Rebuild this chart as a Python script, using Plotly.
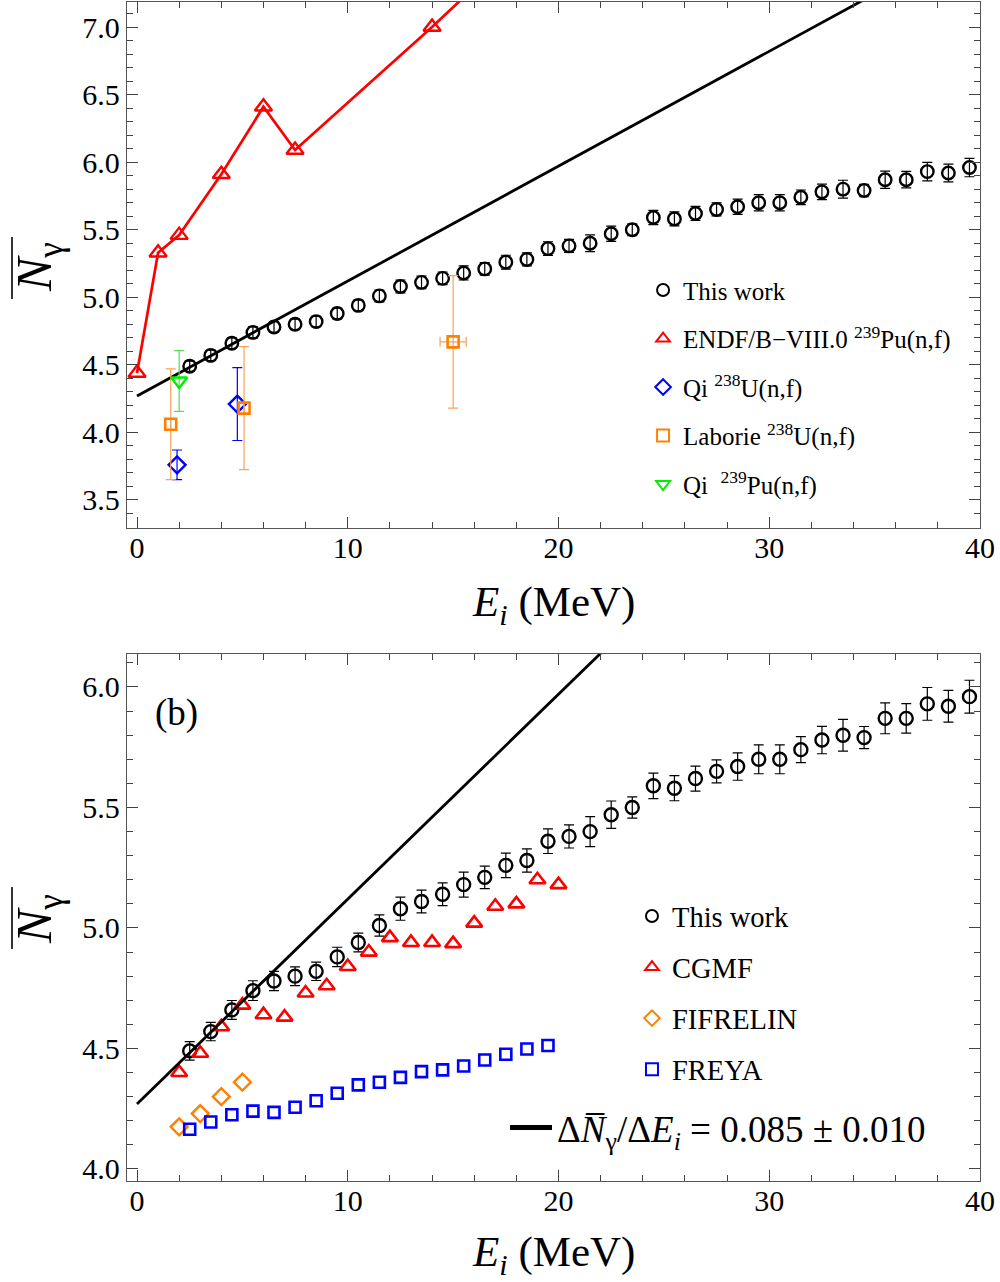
import plotly.graph_objects as go

# ---------------- data ----------------
E_work = [2.5, 3.5, 4.5, 5.5, 6.5, 7.5, 8.5, 9.5, 10.5, 11.5, 12.5, 13.5, 14.5, 15.5,
          16.5, 17.5, 18.5, 19.5, 20.5, 21.5, 22.5, 23.5, 24.5, 25.5, 26.5, 27.5,
          28.5, 29.5, 30.5, 31.5, 32.5, 33.5, 34.5, 35.5, 36.5, 37.5, 38.5, 39.5]
N_work = [4.49, 4.57, 4.66, 4.74, 4.78, 4.80, 4.82, 4.88, 4.94, 5.01, 5.08, 5.11, 5.14, 5.18,
          5.21, 5.26, 5.28, 5.36, 5.38, 5.40, 5.47, 5.50, 5.59, 5.58, 5.62, 5.65,
          5.67, 5.70, 5.70, 5.74, 5.78, 5.80, 5.79, 5.87, 5.87, 5.93, 5.92, 5.96]
err_work = [0.038, 0.038, 0.039, 0.041, 0.040, 0.039, 0.038, 0.040, 0.039, 0.044, 0.048, 0.047,
            0.047, 0.052, 0.047, 0.051, 0.048, 0.051, 0.048, 0.062, 0.057, 0.044, 0.053, 0.052,
            0.052, 0.048, 0.057, 0.060, 0.060, 0.054, 0.057, 0.066, 0.046, 0.064, 0.061, 0.068,
            0.066, 0.068]

FIT_SLOPE = 0.085
FIT_INTERCEPT = 4.27
E_fit = [0.0, 40.0]
N_fit = [FIT_INTERCEPT + FIT_SLOPE * e for e in E_fit]

E_endf = [0.0, 1.0, 2.0, 4.0, 6.0, 7.5, 14.0, 20.0]
N_endf = [4.44, 5.33, 5.46, 5.91, 6.41, 6.09, 7.00, 7.88]

E_qi_u = [1.9, 4.76]
N_qi_u = [3.76, 4.21]
err_qi_u = [0.11, 0.27]

E_lab = [1.6, 5.08, 15.0]
N_lab = [4.06, 4.18, 4.67]
err_lab = [0.41, 0.455, 0.49]
errx_lab = [0.0, 0.0, 0.62]

E_qi_pu = [2.0]
N_qi_pu = [4.38]
err_qi_pu = [0.225]

E_cgmf = [2, 3, 4, 5, 6, 7, 8, 9, 10, 11, 12, 13, 14, 15, 16, 17, 18, 19, 20]
N_cgmf = [4.40, 4.48, 4.59, 4.68, 4.64, 4.63, 4.73, 4.76, 4.84, 4.90, 4.96, 4.94, 4.94, 4.935,
          5.02, 5.09, 5.10, 5.20, 5.18]

E_fif = [2, 3, 4, 5]
N_fif = [4.175, 4.23, 4.30, 4.36]

E_freya = [2.5, 3.5, 4.5, 5.5, 6.5, 7.5, 8.5, 9.5, 10.5, 11.5, 12.5, 13.5, 14.5, 15.5,
           16.5, 17.5, 18.5, 19.5]
N_freya = [4.165, 4.195, 4.225, 4.24, 4.235, 4.256, 4.283, 4.314, 4.349, 4.36, 4.38, 4.404,
           4.411, 4.427, 4.452, 4.476, 4.498, 4.512]

# ---------------- styling ----------------
FONT = "Liberation Serif"
BLACK = "#000000"
RED = "#ff0000"
BLUE = "#0000ff"
ORANGE = "#ff8000"
ORANGE_BAR = "#f7a35c"
GREEN = "#00ee00"
GREEN_BAR = "#55dd55"

fig = go.Figure()

# ---------- top panel ----------
fig.add_trace(go.Scatter(x=E_fit, y=N_fit, mode="lines", line=dict(color=BLACK, width=2.8),
                         showlegend=False, xaxis="x", yaxis="y"))
fig.add_trace(go.Scatter(x=E_endf, y=N_endf, mode="lines", line=dict(color=RED, width=2.7),
                         showlegend=False, xaxis="x", yaxis="y"))
fig.add_trace(go.Scatter(x=E_work, y=N_work, mode="markers", name="This work",
                         marker=dict(symbol="circle-open", size=12.5, color=BLACK, line=dict(width=2.4)),
                         error_y=dict(type="data", array=err_work, color=BLACK, thickness=1.2, width=5),
                         legend="legend", legendgroup="a1", xaxis="x", yaxis="y"))
fig.add_trace(go.Scatter(x=E_endf, y=N_endf, mode="markers",
                         name="ENDF/B\u2212VIII.0 <sup>239</sup>Pu(n,f)",
                         marker=dict(symbol="triangle-up-open", size=15, color=RED, line=dict(width=2.4)),
                         legend="legend", legendgroup="a2", xaxis="x", yaxis="y"))
fig.add_trace(go.Scatter(x=E_qi_u, y=N_qi_u, mode="markers", name="Qi <sup>238</sup>U(n,f)",
                         marker=dict(symbol="diamond-open", size=13, color=BLUE, line=dict(width=2.4)),
                         error_y=dict(type="data", array=err_qi_u, color=BLUE, thickness=1.2, width=5),
                         legend="legend", legendgroup="a3", xaxis="x", yaxis="y"))
fig.add_trace(go.Scatter(x=E_lab, y=N_lab, mode="markers", name="Laborie <sup>238</sup>U(n,f)",
                         marker=dict(symbol="square-open", size=11, color=ORANGE, line=dict(width=2.6)),
                         error_y=dict(type="data", array=err_lab, color=ORANGE_BAR, thickness=1.2, width=5),
                         error_x=dict(type="data", array=errx_lab, color=ORANGE_BAR, thickness=1.2, width=5),
                         legend="legend", legendgroup="a4", xaxis="x", yaxis="y"))
fig.add_trace(go.Scatter(x=E_qi_pu, y=N_qi_pu, mode="markers", name="Qi  <sup>239</sup>Pu(n,f)",
                         marker=dict(symbol="triangle-down-open", size=14, color=GREEN, line=dict(width=2.4)),
                         error_y=dict(type="data", array=err_qi_pu, color=GREEN_BAR, thickness=1.2, width=5),
                         legend="legend", legendgroup="a5", xaxis="x", yaxis="y"))

# ---------- bottom panel ----------
fig.add_trace(go.Scatter(x=E_work, y=N_work, mode="markers", name="This work",
                         marker=dict(symbol="circle-open", size=13, color=BLACK, line=dict(width=2.4)),
                         error_y=dict(type="data", array=err_work, color=BLACK, thickness=1.2, width=5),
                         legend="legend2", legendgroup="b1", xaxis="x2", yaxis="y2"))
fig.add_trace(go.Scatter(x=E_cgmf, y=N_cgmf, mode="markers", name="CGMF",
                         marker=dict(symbol="triangle-up-open", size=14, color=RED, line=dict(width=2.6)),
                         legend="legend2", legendgroup="b2", xaxis="x2", yaxis="y2"))
fig.add_trace(go.Scatter(x=E_fif, y=N_fif, mode="markers", name="FIFRELIN",
                         marker=dict(symbol="diamond-open", size=13, color=ORANGE, line=dict(width=2.4)),
                         legend="legend2", legendgroup="b3", xaxis="x2", yaxis="y2"))
fig.add_trace(go.Scatter(x=E_freya, y=N_freya, mode="markers", name="FREYA",
                         marker=dict(symbol="square-open", size=11, color=BLUE, line=dict(width=2.6)),
                         legend="legend2", legendgroup="b4", xaxis="x2", yaxis="y2"))
fig.add_trace(go.Scatter(x=E_fit, y=N_fit, mode="lines",
                         name="\u0394<i>N\u0305</i><sub>\u03b3</sub>/\u0394<i>E<sub>i</sub></i> = 0.085 \u00b1 0.010",
                         line=dict(color=BLACK, width=2.8),
                         legend="legend3", xaxis="x2", yaxis="y2"))

# ---------- axes ----------
axis_common = dict(
    showline=True, linecolor="#555555", linewidth=1.3, mirror="allticks",
    ticks="inside", ticklen=11, tickwidth=1.2, tickcolor="#444444",
    showgrid=False, zeroline=False,
    tickfont=dict(family=FONT, size=30, color=BLACK),
)
xcommon = dict(axis_common, range=[-0.475, 40], tickvals=[0, 10, 20, 30, 40],
               minor=dict(dtick=2, tick0=0, ticklen=6, ticks="inside", tickcolor="#444444", showgrid=False))
ycommon = dict(axis_common, dtick=0.5, tickformat=".1f",
               minor=dict(dtick=0.1, ticklen=6, ticks="inside", tickcolor="#444444", showgrid=False))

TOP_DOM = [0.5539, 1.0]
BOT_DOM = [0.0, 0.447]


def px_x(px):
    return (px - 127) / 853.0


def px_y(py):
    return (1181 - py) / 1179.0


fig.update_layout(
    width=1000, height=1282,
    margin=dict(l=127, r=20, t=2, b=101),
    paper_bgcolor="white", plot_bgcolor="white",
    font=dict(family=FONT, color=BLACK),
    xaxis=dict(xcommon, anchor="y", domain=[0, 1]),
    yaxis=dict(ycommon, anchor="x", domain=TOP_DOM, range=[3.293, 7.185], tick0=3.5),
    xaxis2=dict(xcommon, anchor="y2", domain=[0, 1]),
    yaxis2=dict(ycommon, anchor="x2", domain=BOT_DOM, range=[3.95, 6.137], tick0=4.0),
    legend=dict(x=0.605, y=0.775, xanchor="left", yanchor="top", bgcolor="rgba(0,0,0,0)",
                font=dict(family=FONT, size=25, color=BLACK), tracegroupgap=13,
                traceorder="grouped", itemsizing="constant"),
    legend2=dict(x=0.592, y=0.246, xanchor="left", yanchor="top", bgcolor="rgba(0,0,0,0)",
                 font=dict(family=FONT, size=28.5, color=BLACK), tracegroupgap=11,
                 traceorder="grouped", itemsizing="constant"),
    legend3=dict(x=px_x(505), y=px_y(1128), xanchor="left", yanchor="middle", bgcolor="rgba(0,0,0,0)",
                 font=dict(family=FONT, size=37, color=BLACK), itemsizing="constant", itemwidth=42),
)

# pull x tick labels a little closer to the axis if supported
for ax in ("xaxis", "xaxis2"):
    try:
        fig.layout[ax].ticklabelstandoff = -7
    except Exception:
        pass

annotations = []
for yc in (267, 919):
    annotations.append(dict(text="<i>N</i><sub>\u03b3</sub>", xref="paper", yref="paper",
                            x=px_x(38), y=px_y(yc), showarrow=False, textangle=-90,
                            font=dict(family=FONT, size=50, color=BLACK),
                            xanchor="center", yanchor="middle"))
for yc in (605, 1255):
    annotations.append(dict(text="<i>E<sub>i</sub></i> (MeV)", xref="paper", yref="paper",
                            x=px_x(553), y=px_y(yc), showarrow=False,
                            font=dict(family=FONT, size=43, color=BLACK),
                            xanchor="center", yanchor="middle"))
annotations.append(dict(text="(b)", xref="paper", yref="paper", x=px_x(153), y=px_y(713),
                        showarrow=False, xanchor="left", yanchor="middle",
                        font=dict(family=FONT, size=37, color=BLACK)))
fig.update_layout(annotations=annotations)

shapes = []
for (y0, y1) in ((237, 299), (887, 949)):
    shapes.append(dict(type="line", xref="paper", yref="paper",
                       x0=px_x(12), x1=px_x(12), y0=px_y(y0), y1=px_y(y1),
                       line=dict(color=BLACK, width=1.6)))
fig.update_layout(shapes=shapes)

fig.write_html("out.html")
